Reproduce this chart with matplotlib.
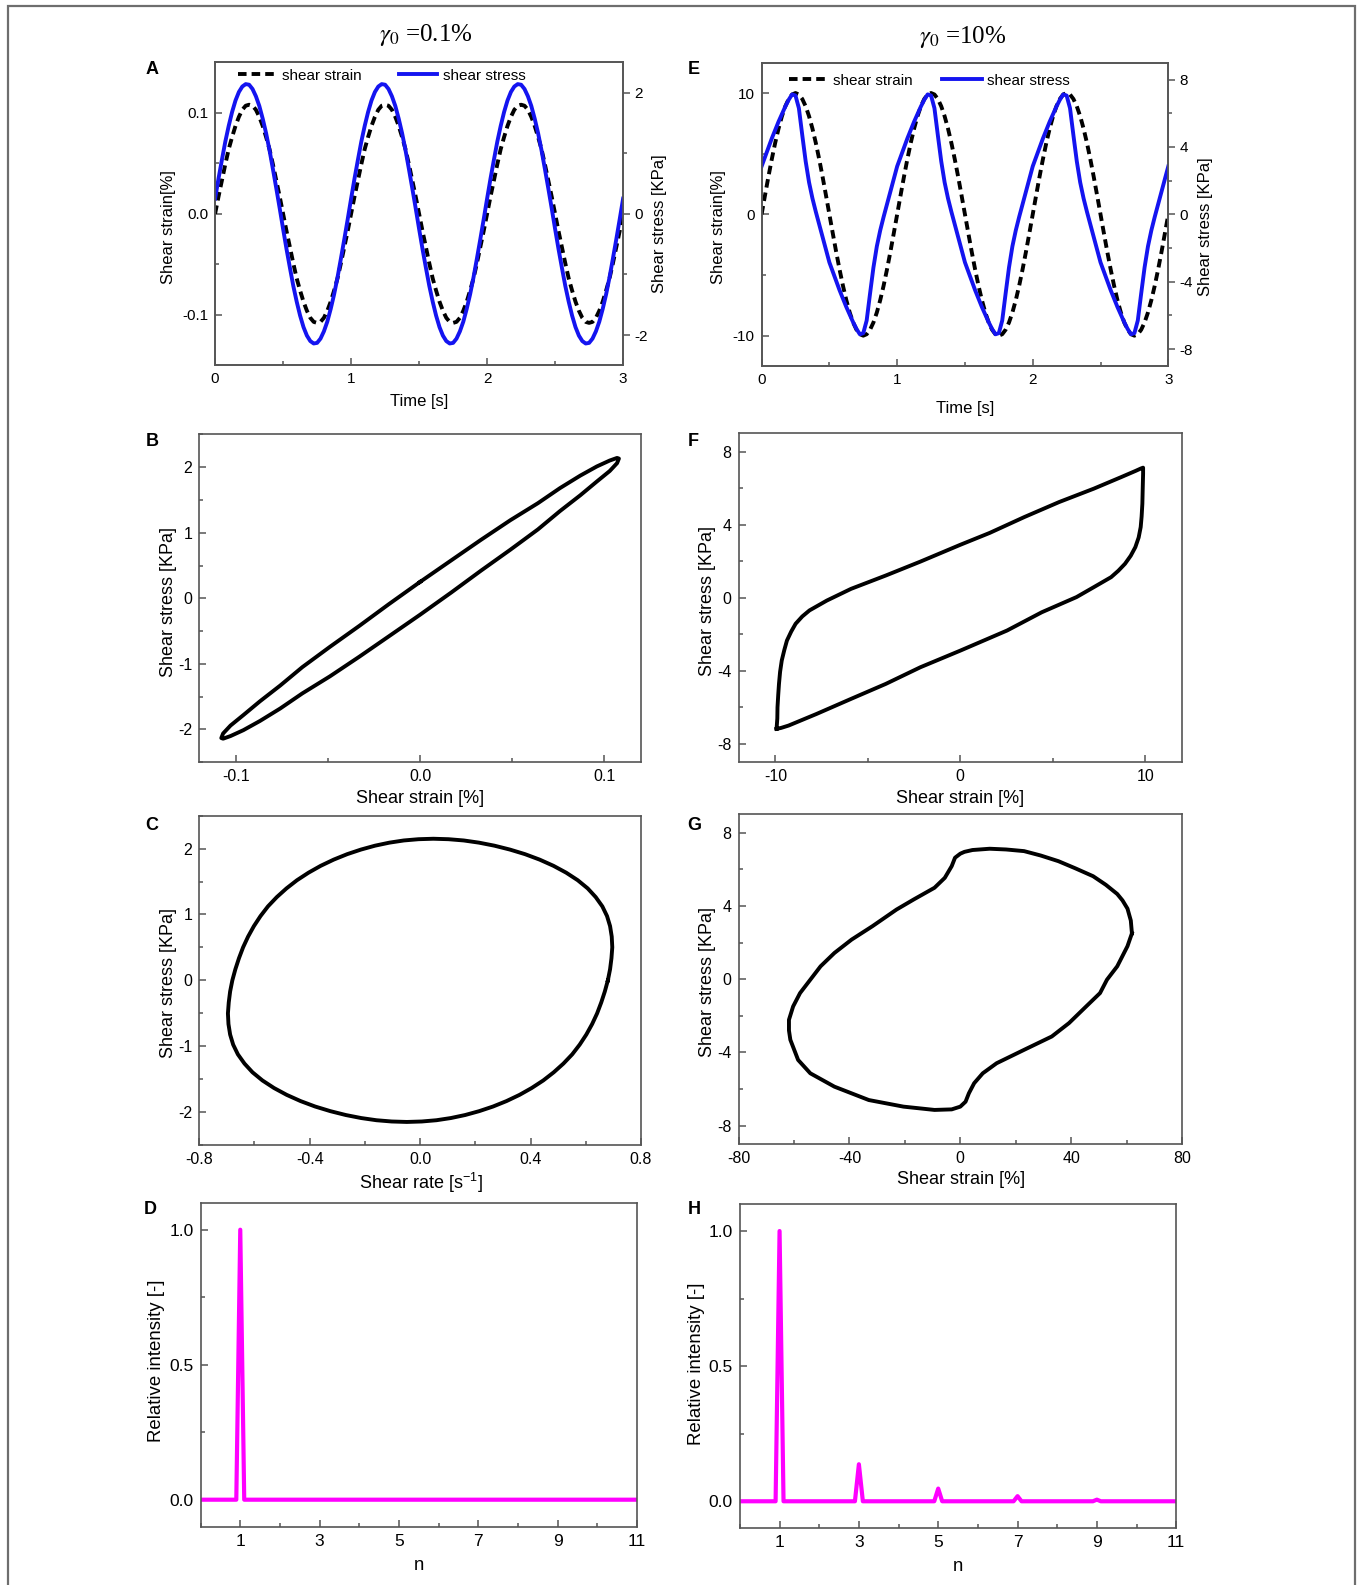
import matplotlib
matplotlib.use('Agg')
import matplotlib.pyplot as plt
from matplotlib.ticker import MultipleLocator, FormatStrFormatter
from matplotlib.patches import Rectangle

plt.rcParams['font.family'] = ['Liberation Sans', 'DejaVu Sans']
plt.rcParams['axes.unicode_minus'] = False
plt.rcParams['mathtext.fontset'] = 'custom'
plt.rcParams['mathtext.rm'] = 'Liberation Sans'
plt.rcParams['mathtext.it'] = 'Liberation Sans:italic'
plt.rcParams['mathtext.bf'] = 'Liberation Sans:bold'

# ---------------- data ----------------
# sampling times used by panels A and E
t_s = [0.000, 0.025, 0.050, 0.075, 0.100, 0.125, 0.150, 0.175, 0.200, 0.225,
       0.250, 0.275, 0.300, 0.325, 0.350, 0.375, 0.400, 0.425, 0.450, 0.475,
       0.500, 0.525, 0.550, 0.575, 0.600, 0.625, 0.650, 0.675, 0.700, 0.725,
       0.750, 0.775, 0.800, 0.825, 0.850, 0.875, 0.900, 0.925, 0.950, 0.975,
       1.000, 1.025, 1.050, 1.075, 1.100, 1.125, 1.150, 1.175, 1.200, 1.225,
       1.250, 1.275, 1.300, 1.325, 1.350, 1.375, 1.400, 1.425, 1.450, 1.475,
       1.500, 1.525, 1.550, 1.575, 1.600, 1.625, 1.650, 1.675, 1.700, 1.725,
       1.750, 1.775, 1.800, 1.825, 1.850, 1.875, 1.900, 1.925, 1.950, 1.975,
       2.000, 2.025, 2.050, 2.075, 2.100, 2.125, 2.150, 2.175, 2.200, 2.225,
       2.250, 2.275, 2.300, 2.325, 2.350, 2.375, 2.400, 2.425, 2.450, 2.475,
       2.500, 2.525, 2.550, 2.575, 2.600, 2.625, 2.650, 2.675, 2.700, 2.725,
       2.750, 2.775, 2.800, 2.825, 2.850, 2.875, 2.900, 2.925, 2.950, 2.975,
       3.000]

# A: gamma0 = 0.1 %
strain_A = [0.000, 0.017, 0.033, 0.049, 0.064, 0.076, 0.087, 0.096, 0.103, 0.107,
            0.108, 0.107, 0.103, 0.096, 0.087, 0.076, 0.064, 0.049, 0.033, 0.017,
            0.000, -0.017, -0.033, -0.049, -0.064, -0.076, -0.087, -0.096, -0.103, -0.107,
            -0.108, -0.107, -0.103, -0.096, -0.087, -0.076, -0.064, -0.049, -0.033, -0.017,
            0.000, 0.017, 0.033, 0.049, 0.064, 0.076, 0.087, 0.096, 0.103, 0.107,
            0.108, 0.107, 0.103, 0.096, 0.087, 0.076, 0.064, 0.049, 0.033, 0.017,
            0.000, -0.017, -0.033, -0.049, -0.064, -0.076, -0.087, -0.096, -0.103, -0.107,
            -0.108, -0.107, -0.103, -0.096, -0.087, -0.076, -0.064, -0.049, -0.033, -0.017,
            0.000, 0.017, 0.033, 0.049, 0.064, 0.076, 0.087, 0.096, 0.103, 0.107,
            0.108, 0.107, 0.103, 0.096, 0.087, 0.076, 0.064, 0.049, 0.033, 0.017,
            0.000, -0.017, -0.033, -0.049, -0.064, -0.076, -0.087, -0.096, -0.103, -0.107,
            -0.108, -0.107, -0.103, -0.096, -0.087, -0.076, -0.064, -0.049, -0.033, -0.017,
            0.000]
stress_A = [0.25, 0.58, 0.89, 1.19, 1.45, 1.68, 1.87, 2.01, 2.10, 2.14,
            2.13, 2.06, 1.94, 1.78, 1.57, 1.33, 1.05, 0.74, 0.42, 0.09,
            -0.25, -0.58, -0.89, -1.19, -1.45, -1.68, -1.87, -2.01, -2.10, -2.14,
            -2.13, -2.06, -1.94, -1.78, -1.57, -1.33, -1.05, -0.74, -0.42, -0.09,
            0.25, 0.58, 0.89, 1.19, 1.45, 1.68, 1.87, 2.01, 2.10, 2.14,
            2.13, 2.06, 1.94, 1.78, 1.57, 1.33, 1.05, 0.74, 0.42, 0.09,
            -0.25, -0.58, -0.89, -1.19, -1.45, -1.68, -1.87, -2.01, -2.10, -2.14,
            -2.13, -2.06, -1.94, -1.78, -1.57, -1.33, -1.05, -0.74, -0.42, -0.09,
            0.25, 0.58, 0.89, 1.19, 1.45, 1.68, 1.87, 2.01, 2.10, 2.14,
            2.13, 2.06, 1.94, 1.78, 1.57, 1.33, 1.05, 0.74, 0.42, 0.09,
            -0.25, -0.58, -0.89, -1.19, -1.45, -1.68, -1.87, -2.01, -2.10, -2.14,
            -2.13, -2.06, -1.94, -1.78, -1.57, -1.33, -1.05, -0.74, -0.42, -0.09,
            0.25]

# B: stress vs strain, one cycle
strain_B = [0.000, 0.017, 0.033, 0.049, 0.064, 0.076, 0.087, 0.096, 0.103, 0.107,
            0.108, 0.107, 0.103, 0.096, 0.087, 0.076, 0.064, 0.049, 0.033, 0.017,
            0.000, -0.017, -0.033, -0.049, -0.064, -0.076, -0.087, -0.096, -0.103, -0.107,
            -0.108, -0.107, -0.103, -0.096, -0.087, -0.076, -0.064, -0.049, -0.033, -0.017,
            0.000]
stress_B = [0.25, 0.58, 0.89, 1.19, 1.45, 1.68, 1.87, 2.01, 2.10, 2.14,
            2.13, 2.06, 1.94, 1.78, 1.57, 1.33, 1.05, 0.74, 0.42, 0.09,
            -0.25, -0.58, -0.89, -1.19, -1.45, -1.68, -1.87, -2.01, -2.10, -2.14,
            -2.13, -2.06, -1.94, -1.78, -1.57, -1.33, -1.05, -0.74, -0.42, -0.09,
            0.25]

# C: stress vs shear rate, one cycle
rate_C = [0.680, 0.688, 0.693, 0.696, 0.694, 0.688, 0.677, 0.660, 0.636, 0.607,
          0.571, 0.529, 0.483, 0.433, 0.380, 0.325, 0.269, 0.213, 0.158, 0.103,
          0.048, -0.006, -0.059, -0.111, -0.163, -0.214, -0.264, -0.313, -0.360, -0.404,
          -0.446, -0.484, -0.519, -0.551, -0.578, -0.602, -0.623, -0.641, -0.656, -0.669,
          -0.680, -0.688, -0.693, -0.696, -0.694, -0.688, -0.677, -0.660, -0.636, -0.607,
          -0.571, -0.529, -0.483, -0.433, -0.380, -0.325, -0.269, -0.213, -0.158, -0.103,
          -0.048, 0.006, 0.059, 0.111, 0.163, 0.214, 0.264, 0.313, 0.360, 0.404,
          0.446, 0.484, 0.519, 0.551, 0.578, 0.602, 0.623, 0.641, 0.656, 0.669,
          0.680]
stress_C = [0.000, 0.169, 0.336, 0.502, 0.664, 0.823, 0.976, 1.123, 1.264, 1.396,
            1.520, 1.635, 1.739, 1.833, 1.916, 1.986, 2.045, 2.091, 2.124, 2.143,
            2.150, 2.143, 2.124, 2.091, 2.045, 1.986, 1.916, 1.833, 1.739, 1.635,
            1.520, 1.396, 1.264, 1.123, 0.976, 0.823, 0.664, 0.502, 0.336, 0.169,
            0.000, -0.169, -0.336, -0.502, -0.664, -0.823, -0.976, -1.123, -1.264, -1.396,
            -1.520, -1.635, -1.739, -1.833, -1.916, -1.986, -2.045, -2.091, -2.124, -2.143,
            -2.150, -2.143, -2.124, -2.091, -2.045, -1.986, -1.916, -1.833, -1.739, -1.635,
            -1.520, -1.396, -1.264, -1.123, -0.976, -0.823, -0.664, -0.502, -0.336, -0.169,
            0.000]

# D: harmonic spectrum, gamma0 = 0.1 %
n_D = [0.0, 0.9, 1.0, 1.1, 11.0]
int_D = [0.0, 0.0, 1.0, 0.0, 0.0]

# E: gamma0 = 10 %
strain_E = [0.00, 1.56, 3.09, 4.54, 5.88, 7.07, 8.09, 8.91, 9.51, 9.88,
            10.00, 9.88, 9.51, 8.91, 8.09, 7.07, 5.88, 4.54, 3.09, 1.56,
            0.00, -1.56, -3.09, -4.54, -5.88, -7.07, -8.09, -8.91, -9.51, -9.88,
            -10.00, -9.88, -9.51, -8.91, -8.09, -7.07, -5.88, -4.54, -3.09, -1.56,
            0.00, 1.56, 3.09, 4.54, 5.88, 7.07, 8.09, 8.91, 9.51, 9.88,
            10.00, 9.88, 9.51, 8.91, 8.09, 7.07, 5.88, 4.54, 3.09, 1.56,
            0.00, -1.56, -3.09, -4.54, -5.88, -7.07, -8.09, -8.91, -9.51, -9.88,
            -10.00, -9.88, -9.51, -8.91, -8.09, -7.07, -5.88, -4.54, -3.09, -1.56,
            0.00, 1.56, 3.09, 4.54, 5.88, 7.07, 8.09, 8.91, 9.51, 9.88,
            10.00, 9.88, 9.51, 8.91, 8.09, 7.07, 5.88, 4.54, 3.09, 1.56,
            0.00, -1.56, -3.09, -4.54, -5.88, -7.07, -8.09, -8.91, -9.51, -9.88,
            -10.00, -9.88, -9.51, -8.91, -8.09, -7.07, -5.88, -4.54, -3.09, -1.56,
            0.00]
stress_E = [2.85, 3.40, 3.95, 4.50, 5.00, 5.50, 5.95, 6.40, 6.80, 7.12,
            7.05, 6.30, 4.70, 3.15, 1.90, 0.95, 0.15, -0.60, -1.35, -2.10,
            -2.85, -3.40, -3.95, -4.50, -5.00, -5.50, -5.95, -6.40, -6.80, -7.12,
            -7.05, -6.30, -4.70, -3.15, -1.90, -0.95, -0.15, 0.60, 1.35, 2.10,
            2.85, 3.40, 3.95, 4.50, 5.00, 5.50, 5.95, 6.40, 6.80, 7.12,
            7.05, 6.30, 4.70, 3.15, 1.90, 0.95, 0.15, -0.60, -1.35, -2.10,
            -2.85, -3.40, -3.95, -4.50, -5.00, -5.50, -5.95, -6.40, -6.80, -7.12,
            -7.05, -6.30, -4.70, -3.15, -1.90, -0.95, -0.15, 0.60, 1.35, 2.10,
            2.85, 3.40, 3.95, 4.50, 5.00, 5.50, 5.95, 6.40, 6.80, 7.12,
            7.05, 6.30, 4.70, 3.15, 1.90, 0.95, 0.15, -0.60, -1.35, -2.10,
            -2.85, -3.40, -3.95, -4.50, -5.00, -5.50, -5.95, -6.40, -6.80, -7.12,
            -7.05, -6.30, -4.70, -3.15, -1.90, -0.95, -0.15, 0.60, 1.35, 2.10,
            2.85]

# F: stress vs strain, one cycle
strain_F = [-9.94, -9.90, -9.89, -9.85, -9.81, -9.75, -9.66, -9.52, -9.38, -9.15,
            -8.91, -8.55, -8.16, -7.22, -5.91, -4.03, -2.16, 0.00, 1.59, 3.47,
            5.35, 7.22, 8.72, 9.50, 9.76, 9.89,
            9.89, 9.87, 9.85, 9.81, 9.76, 9.65, 9.47, 9.22, 8.91, 8.55,
            8.16, 7.22, 6.29, 4.41, 2.53, 0.00, -2.16, -4.03, -5.91, -7.79,
            -9.29, -9.70, -9.94]
stress_F = [-7.17, -6.60, -5.99, -5.30, -4.71, -4.05, -3.43, -2.85, -2.34, -1.85,
            -1.42, -1.02, -0.69, -0.15, 0.49, 1.22, 1.98, 2.90, 3.55, 4.42,
            5.24, 5.97, 6.61, 6.95, 7.07, 7.12,
            6.79, 6.00, 5.15, 4.45, 3.87, 3.30, 2.77, 2.30, 1.86, 1.48,
            1.13, 0.58, 0.04, -0.79, -1.79, -2.89, -3.80, -4.71, -5.53, -6.36,
            -6.99, -7.12, -7.17]

# G: stress vs shear rate, one cycle
rate_G = [61.9, 61.5, 60.3, 58.5, 56.6, 52.5, 47.9, 41.5, 35.4, 29.0,
          23.0, 16.5, 10.6, 4.4, 1.5, 0.0, -1.9, -3.1, -5.6, -9.3,
          -16.8, -23.0, -31.7, -39.2, -45.4, -50.4, -54.1, -57.8, -60.3, -61.8,
          -61.8, -61.3, -58.5, -54.1, -45.4, -33.0, -20.5, -9.3, -3.1, 0.0,
          1.9, 3.1, 5.0, 8.1, 13.1, 23.0, 33.0, 39.2, 45.4, 50.4,
          52.9, 56.6, 60.3, 61.9]
stress_G = [2.50, 3.20, 3.85, 4.30, 4.65, 5.15, 5.62, 6.05, 6.44, 6.75,
            6.99, 7.08, 7.12, 7.05, 6.95, 6.85, 6.63, 6.17, 5.53, 4.99,
            4.35, 3.80, 2.89, 2.16, 1.43, 0.70, -0.03, -0.76, -1.49, -2.22,
            -2.80, -3.31, -4.41, -5.14, -5.87, -6.60, -6.96, -7.14, -7.11, -6.96,
            -6.69, -6.23, -5.68, -5.14, -4.59, -3.86, -3.13, -2.40, -1.49, -0.76,
            -0.03, 0.70, 1.80, 2.50]

# H: harmonic spectrum, gamma0 = 10 %
n_H = [0.0, 0.9, 1.0, 1.1, 2.9, 3.0, 3.1, 4.9, 5.0, 5.1,
       6.9, 7.0, 7.1, 8.9, 9.0, 9.1, 11.0]
int_H = [0.0, 0.0, 1.0, 0.0, 0.0, 0.137, 0.0, 0.0, 0.047, 0.0,
         0.0, 0.019, 0.0, 0.0, 0.006, 0.0, 0.0]

# ---------------- figure ----------------
W, H = 1360, 1585
fig = plt.figure(figsize=(W / 100, H / 100), dpi=100)
fig.add_artist(Rectangle((8 / W, -0.05), (1355 - 8) / W, 1.05 - 6 / H, fill=False,
                         edgecolor='#6e6e6e', lw=1.6, transform=fig.transFigure))

GREY = '#555555'
BLUE = '#1414f0'
MAGENTA = '#ff00ff'


def make_axes(l, t, r, b):
    ax = fig.add_axes([l / W, 1 - b / H, (r - l) / W, (b - t) / H])
    ax.px = (l, t, r, b)
    return ax


def style(ax, fs):
    for s in ax.spines.values():
        s.set_color(GREY)
        s.set_linewidth(1.2)
    ax.tick_params(which='both', direction='in', color=GREY, width=1.1,
                   labelsize=fs, pad=5, top=False, right=False)
    ax.tick_params(which='major', length=5)
    ax.tick_params(which='minor', length=3)


def style_twin(ax, fs):
    for s in ax.spines.values():
        s.set_color(GREY)
        s.set_linewidth(1.2)
    ax.tick_params(which='both', direction='out', color=GREY, width=1.1, labelsize=fs, pad=3)
    ax.tick_params(which='major', length=5)
    ax.tick_params(which='minor', length=3)


def xlabel(ax, text, fs, xc, yc):
    l, t, r, b = ax.px
    ax.set_xlabel(text, fontsize=fs, va='center', ha='center')
    ax.xaxis.set_label_coords((xc - l) / (r - l), (b - yc) / (b - t))


def ylabel(ax, text, fs, xc, yc):
    l, t, r, b = ax.px
    ax.set_ylabel(text, fontsize=fs, va='center', ha='center')
    ax.yaxis.set_label_coords((xc - l) / (r - l), (b - yc) / (b - t))


def letter(txt, x, y):
    fig.text(x / W, 1 - y / H, txt, fontsize=13, fontweight='bold', ha='center', va='center')


# titles
fig.text(425.8 / W, 1 - 35 / H, r'$\gamma_0$ =0.1%', fontsize=18, ha='center', va='center',
         family='Liberation Serif', math_fontfamily='stix')
fig.text(962.4 / W, 1 - 36.7 / H, r'$\gamma_0$ =10%', fontsize=18, ha='center', va='center',
         family='Liberation Serif', math_fontfamily='stix')

# ---- A ----
axA = make_axes(215.1, 62.3, 623.1, 365.3)
style(axA, 11)
lA1, = axA.plot(t_s, strain_A, color='black', lw=2.8, dashes=(2.2, 1.3))
axA.set_xlim(0, 3)
axA.set_ylim(-0.15, 0.15)
axA.xaxis.set_major_locator(MultipleLocator(1))
axA.xaxis.set_minor_locator(MultipleLocator(0.5))
axA.yaxis.set_major_locator(MultipleLocator(0.1))
axA.yaxis.set_minor_locator(MultipleLocator(0.05))
axA.yaxis.set_major_formatter(FormatStrFormatter('%.1f'))
axA2 = axA.twinx()
axA2.px = axA.px
lA2, = axA2.plot(t_s, stress_A, color=BLUE, lw=2.8)
axA2.set_ylim(-2.5, 2.5)
axA2.yaxis.set_major_locator(MultipleLocator(2))
axA2.yaxis.set_minor_locator(MultipleLocator(1))
style_twin(axA2, 11)
xlabel(axA, 'Time [s]', 12, 418.9, 401.7)
ylabel(axA, 'Shear strain[%]', 12, 168.2, 226.7)
ylabel(axA2, 'Shear stress [KPa]', 12, 660, 224)
axA2.legend([lA1, lA2], ['shear strain', 'shear stress'], loc='center left',
            bbox_to_anchor=((238.1 - 215.1) / 408, (365.3 - 75.7) / 303), ncol=2,
            frameon=False, fontsize=11, handlelength=2.5, handletextpad=0.4,
            columnspacing=2.4, borderpad=0, borderaxespad=0)

# ---- E ----
axE = make_axes(761.6, 62.7, 1168.3, 366)
style(axE, 11)
lE1, = axE.plot(t_s, strain_E, color='black', lw=2.8, dashes=(2.2, 1.3))
axE.set_xlim(0, 3)
axE.set_ylim(-12.5, 12.5)
axE.xaxis.set_major_locator(MultipleLocator(1))
axE.xaxis.set_minor_locator(MultipleLocator(0.5))
axE.yaxis.set_major_locator(MultipleLocator(10))
axE.yaxis.set_minor_locator(MultipleLocator(5))
axE2 = axE.twinx()
axE2.px = axE.px
lE2, = axE2.plot(t_s, stress_E, color=BLUE, lw=2.8)
axE2.set_ylim(-9, 9)
axE2.yaxis.set_major_locator(MultipleLocator(4))
axE2.yaxis.set_minor_locator(MultipleLocator(2))
style_twin(axE2, 11)
xlabel(axE, 'Time [s]', 12, 965.1, 408.3)
ylabel(axE, 'Shear strain[%]', 12, 718.6, 226.7)
ylabel(axE2, 'Shear stress [KPa]', 12, 1205.1, 226.7)
axE2.legend([lE1, lE2], ['shear strain', 'shear stress'], loc='center left',
            bbox_to_anchor=((788.5 - 761.6) / 406.7, (366 - 80.7) / 303.3), ncol=2,
            frameon=False, fontsize=11, handlelength=2.6, handletextpad=0.33,
            columnspacing=1.9, borderpad=0, borderaxespad=0)

# ---- B ----
axB = make_axes(199.2, 434.3, 641, 762.3)
style(axB, 11.5)
axB.plot(strain_B, stress_B, color='black', lw=2.8)
axB.set_xlim(-0.12, 0.12)
axB.set_ylim(-2.5, 2.5)
axB.xaxis.set_major_locator(MultipleLocator(0.1))
axB.xaxis.set_minor_locator(MultipleLocator(0.05))
axB.xaxis.set_major_formatter(FormatStrFormatter('%.1f'))
axB.yaxis.set_major_locator(MultipleLocator(1))
axB.yaxis.set_minor_locator(MultipleLocator(0.5))
xlabel(axB, 'Shear strain [%]', 13, 419.6, 798.3)
ylabel(axB, 'Shear stress [KPa]', 13, 168.2, 601.7)

# ---- F ----
axF = make_axes(738.5, 433.3, 1182.1, 762.3)
style(axF, 11.5)
axF.plot(strain_F, stress_F, color='black', lw=2.8)
axF.set_xlim(-12, 12)
axF.set_ylim(-9, 9)
axF.xaxis.set_major_locator(MultipleLocator(10))
axF.xaxis.set_minor_locator(MultipleLocator(5))
axF.yaxis.set_major_locator(MultipleLocator(4))
axF.yaxis.set_minor_locator(MultipleLocator(2))
xlabel(axF, 'Shear strain [%]', 13, 959.6, 798.3)
ylabel(axF, 'Shear stress [KPa]', 13, 707.5, 600.7)

# ---- C ----
axC = make_axes(199.2, 815.7, 641, 1145)
style(axC, 11.5)
axC.plot(rate_C, stress_C, color='black', lw=2.8)
axC.set_xlim(-0.8, 0.8)
axC.set_ylim(-2.5, 2.5)
axC.xaxis.set_major_locator(MultipleLocator(0.4))
axC.xaxis.set_minor_locator(MultipleLocator(0.2))
axC.xaxis.set_major_formatter(FormatStrFormatter('%.1f'))
axC.yaxis.set_major_locator(MultipleLocator(1))
axC.yaxis.set_minor_locator(MultipleLocator(0.5))
xlabel(axC, r'Shear rate [s$^{-1}$]', 13, 420.6, 1183.3)
ylabel(axC, 'Shear stress [KPa]', 13, 168.2, 983.3)

# ---- G ----
axG = make_axes(738.5, 814.3, 1182.1, 1144)
style(axG, 11.5)
axG.plot(rate_G, stress_G, color='black', lw=2.8)
axG.set_xlim(-80, 80)
axG.set_ylim(-9, 9)
axG.xaxis.set_major_locator(MultipleLocator(40))
axG.xaxis.set_minor_locator(MultipleLocator(20))
axG.yaxis.set_major_locator(MultipleLocator(4))
axG.yaxis.set_minor_locator(MultipleLocator(2))
xlabel(axG, 'Shear strain [%]', 13, 960.6, 1180)
ylabel(axG, 'Shear stress [KPa]', 13, 707.5, 982.3)

# ---- D / H ----
for ax_rect, n, inten, lab in [((200.6, 1202.7, 636.9, 1526.7), n_D, int_D, ((418.9, 1565), (156.5, 1360.7))),
                               ((739.9, 1204, 1176.2, 1528.3), n_H, int_H, ((958.2, 1566.7), (696.5, 1363.3)))]:
    ax = make_axes(*ax_rect)
    style(ax, 12.5)
    ax.plot(n, inten, color=MAGENTA, lw=3.0)
    ax.set_xlim(0, 11)
    ax.set_ylim(-0.1, 1.1)
    ax.set_xticks([1, 3, 5, 7, 9, 11])
    ax.xaxis.set_minor_locator(MultipleLocator(1))
    ax.yaxis.set_major_locator(MultipleLocator(0.5))
    ax.yaxis.set_minor_locator(MultipleLocator(0.25))
    ax.yaxis.set_major_formatter(FormatStrFormatter('%.1f'))
    xlabel(ax, 'n', 13.4, *lab[0])
    ylabel(ax, 'Relative intensity [-]', 13.4, *lab[1])

# panel letters
letter('A', 152, 70)
letter('B', 152, 441.7)
letter('C', 152, 825)
letter('D', 150.3, 1210)
letter('E', 693.8, 70)
letter('F', 693.1, 441.7)
letter('G', 694.5, 825)
letter('H', 694.5, 1210)

fig.savefig('out.png', dpi=100)
